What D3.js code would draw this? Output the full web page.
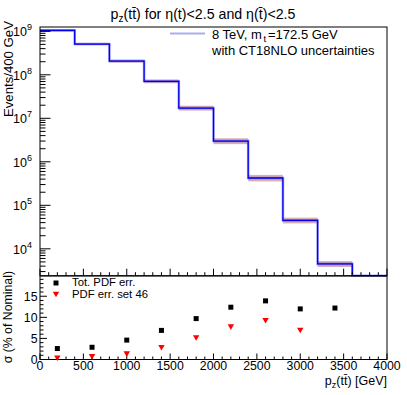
<!DOCTYPE html>
<html><head><meta charset="utf-8">
<script src="https://cdn.jsdelivr.net/npm/d3@7"></script>
<style>body{margin:0;background:#fff}svg{display:block;font-family:"Liberation Sans",Arial,sans-serif}</style>
</head><body><svg id="c" width="407" height="395"></svg>
<script>
// ---- data ----
const binEdges = [0,400,800,1200,1600,2000,2400,2800,3200,3600,4000];
const nominal = [1.05e9, 5.1e8, 2.07e8, 7.1e7, 1.72e7, 3.0e6, 4.25e5, 4.5e4, 4.5e3, 0];
const totPdfErr = [2.6, 2.9, 4.6, 6.9, 9.7, 12.4, 13.9, 12.0, 12.2];
const set46Err = [0.5, 0.85, 1.5, 3.0, 5.3, 7.9, 9.4, 7.1, null];
const pointX = [200,600,1000,1400,1800,2200,2600,3000,3400];
const topTickExps = [4,5,6,7,8,9];
const xTickLabels = [0,500,1000,1500,2000,2500,3000,3500,4000];
const ratioTickLabels = [0,5,10,15];

const svg = d3.select("#c");
const L=40, R=387, T=27, MID=275.7, B=359.5;
const x = d3.scaleLinear().domain([0,4000]).range([L,R]);
const y = d3.scaleLog().domain([2410,1.256e9]).range([MID,T]);
const y2 = d3.scaleLinear().domain([0,19.8]).range([B,MID+0.3]);
const yc = v => v>0 ? Math.max(T, Math.min(MID, y(v))) : MID;

// title
const title = svg.append("text").attr("x",203).attr("y",19).attr("text-anchor","middle").attr("font-size",14.2);
title.append("tspan").text("p");
title.append("tspan").attr("font-size",10).attr("dy",3).text("z");
title.append("tspan").attr("dy",-3).text("(tt\u0304) for \u03b7(t)<2.5 and \u03b7(t\u0304)<2.5");

// clip for top
svg.append("clipPath").attr("id","ct").append("rect").attr("x",L).attr("y",T).attr("width",R-L).attr("height",MID-T+1);
const gTop = svg.append("g").attr("clip-path","url(#ct)");

// error band
const bins = nominal.map((v,i)=>({x0:binEdges[i],x1:binEdges[i+1],v,e:(totPdfErr[i]||0)/100}));
gTop.selectAll("rect.band").data(bins.filter(b=>b.v>0)).join("rect")
  .attr("x",b=>x(b.x0)).attr("width",b=>x(b.x1)-x(b.x0))
  .attr("y",b=>yc(b.v*(1+b.e))-0.6).attr("height",b=>Math.max(1.2,yc(b.v*(1-b.e))-yc(b.v*(1+b.e))+1.2))
  .attr("fill","rgba(190,110,110,0.55)");

// step path
function stepPath(){
  let p = "";
  bins.forEach((b,i)=>{
    const yy = yc(b.v);
    if(i===0) p += `M${x(b.x0)},${yy}`; else p += `L${x(b.x0)},${yy}`;
    p += `L${x(b.x1)},${yy}`;
  });
  return p;
}
gTop.append("path").attr("d",stepPath()).attr("fill","none").attr("stroke","rgba(70,70,255,0.5)").attr("stroke-width",2.6);
gTop.append("path").attr("d",stepPath()).attr("fill","none").attr("stroke","#0000f0").attr("stroke-width",1.3);

// top frame
svg.append("rect").attr("x",L).attr("y",T).attr("width",R-L).attr("height",MID-T).attr("fill","none").attr("stroke","#000").attr("stroke-width",1);
// y ticks top (log)
const tg = svg.append("g").attr("stroke","#000").attr("stroke-width",1);
for(let e=3;e<=9;e++){
  for(let m=1;m<=9;m++){
    const v=m*Math.pow(10,e);
    if(v<2410||v>1.256e9) continue;
    const len = m===1?10.5:5.5;
    tg.append("line").attr("x1",L).attr("x2",L+len).attr("y1",y(v)).attr("y2",y(v));
  }
}
// top pad x ticks at bottom
for(let v=0;v<=4000;v+=100){
  const len = v%500===0?7:3.5;
  tg.append("line").attr("x1",x(v)).attr("x2",x(v)).attr("y1",MID).attr("y2",MID-len);
}
// top y tick labels
topTickExps.forEach(e=>{
  const t = svg.append("text").attr("x",32).attr("y",y(Math.pow(10,e))+5).attr("text-anchor","end").attr("font-size",12.5);
  t.append("tspan").text("10");
  t.append("tspan").attr("font-size",9).attr("dy",-6).text(e);
});
// top y title
svg.append("text").attr("transform","translate(13,21) rotate(-90)").attr("text-anchor","end").attr("font-size",13.2).text("Events/400 GeV");

// legend top
svg.append("line").attr("x1",170).attr("x2",205).attr("y1",33.5).attr("y2",33.5).attr("stroke","rgba(70,70,210,0.45)").attr("stroke-width",2);
const lg = svg.append("text").attr("x",212).attr("y",39).attr("font-size",13);
lg.append("tspan").text("8 TeV, m");
lg.append("tspan").attr("font-size",9.5).attr("dy",3).attr("dx",1.5).text("t");
lg.append("tspan").attr("dy",-3).attr("dx",2).text("=172.5 GeV");
svg.append("text").attr("x",212).attr("y",55).attr("font-size",13).text("with CT18NLO uncertainties");

// bottom pad frame
svg.append("rect").attr("x",L).attr("y",MID+0.3).attr("width",R-L).attr("height",B-MID-0.3).attr("fill","none").attr("stroke","#000").attr("stroke-width",1);
const bg = svg.append("g").attr("stroke","#000").attr("stroke-width",1);
for(let v=0;v<=4000;v+=100){
  const len = v%500===0?6:3;
  bg.append("line").attr("x1",x(v)).attr("x2",x(v)).attr("y1",B).attr("y2",B-len);
}
for(let v=0;v<=19;v+=1){
  const len = v%5===0?7:3.5;
  bg.append("line").attr("x1",L).attr("x2",L+len).attr("y1",y2(v)).attr("y2",y2(v));
}
ratioTickLabels.forEach(v=>{
  svg.append("text").attr("x",37.5).attr("y",y2(v)+4.5).attr("text-anchor","end").attr("font-size",12.3).text(v);
});
xTickLabels.forEach(v=>{
  svg.append("text").attr("x",x(v)).attr("y",369.5).attr("text-anchor","middle").attr("font-size",12.3).text(v);
});
// x title
const xt = svg.append("text").attr("x",387).attr("y",385).attr("text-anchor","end").attr("font-size",12.5);
xt.append("tspan").text("p");
xt.append("tspan").attr("font-size",9).attr("dy",3).text("z");
xt.append("tspan").attr("dy",-3).text("(tt\u0304) [GeV]");
// y2 title
svg.append("text").attr("transform","translate(12,271) rotate(-90)").attr("text-anchor","end").attr("font-size",12.3).text("\u03c3 (% of Nominal)");

// markers
svg.selectAll("rect.sq").data(pointX.map((px,i)=>({px,v:totPdfErr[i]}))).join("rect")
  .attr("x",d=>x(d.px)-2.5).attr("y",d=>y2(d.v)-2.5).attr("width",5).attr("height",5).attr("fill","#000");
const tri = d3.symbol().type(d3.symbolTriangle).size(18);
svg.selectAll("path.tr").data(pointX.map((px,i)=>({px,v:set46Err[i]})).filter(d=>d.v!=null)).join("path")
  .attr("d",tri).attr("transform",d=>`translate(${x(d.px)},${y2(d.v)}) rotate(180)`).attr("fill","#f00");

// bottom legend
svg.append("rect").attr("x",53.5).attr("y",280.5).attr("width",5).attr("height",5).attr("fill","#000");
svg.append("path").attr("d",tri).attr("transform","translate(56,293.5) rotate(180)").attr("fill","#f00");
svg.append("text").attr("x",72).attr("y",285.5).attr("font-size",11.3).text("Tot. PDF err.");
svg.append("text").attr("x",72).attr("y",297.5).attr("font-size",11.3).text("PDF err. set 46");
</script></body></html>
